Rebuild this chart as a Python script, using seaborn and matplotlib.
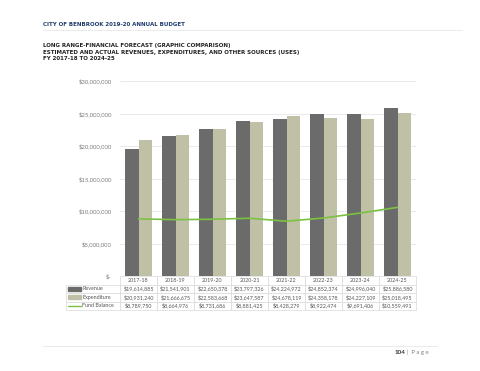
import matplotlib
matplotlib.use('Agg')
import matplotlib.pyplot as plt
from matplotlib.patches import Rectangle
from matplotlib.lines import Line2D
import seaborn as sns
import pandas as pd
import numpy as np

YEARS = ['2017-18', '2018-19', '2019-20', '2020-21', '2021-22', '2022-23', '2023-24', '2024-25']
REVENUE = [19614885, 21541901, 22650378, 23797326, 24224972, 24852374, 24996040, 25886580]
EXPENDITURE = [20931240, 21666675, 22583668, 23647587, 24678119, 24358178, 24227109, 25018495]
FUND_BALANCE = [8789750, 8664976, 8731686, 8881425, 8428279, 8922474, 9691406, 10559491]
SERIES = ['Revenue', 'Expenditure', 'Fund Balance']

REV_COLOR = '#6b6b6b'
EXP_COLOR = '#c0c0a6'
FB_COLOR = '#7cc242'
TEXT_GRAY = '#7f7f7f'


def money(v):
    return '$' + format(int(v), ',')


def build_frame():
    df = pd.DataFrame({'Year': YEARS * 2,
                       'Amount': REVENUE + EXPENDITURE,
                       'Series': ['Revenue'] * len(YEARS) + ['Expenditure'] * len(YEARS)})
    return df


def main():
    sns.set_style('white')
    plt.rcParams['font.family'] = ['Lato', 'DejaVu Sans']

    fig = plt.figure(figsize=(4.8, 3.71), dpi=100)
    ax = fig.add_axes([120 / 480, 1 - 276 / 371, 296 / 480, 195 / 371])

    df = build_frame()
    sns.barplot(data=df, x='Year', y='Amount', hue='Series', ax=ax,
                palette=[REV_COLOR, EXP_COLOR], width=0.74, gap=0,
                saturation=1, legend=False, edgecolor='none')
    sns.lineplot(x=np.arange(len(YEARS)), y=FUND_BALANCE, ax=ax,
                 color=FB_COLOR, linewidth=1.2)

    ax.set_xlim(-0.5, len(YEARS) - 0.5)
    ax.set_ylim(0, 30000000)
    ticks = np.arange(0, 30000001, 5000000)
    ax.set_yticks(ticks)
    ax.set_yticklabels(['$-'] + [money(t) for t in ticks[1:]],
                       fontsize=4.3, color=TEXT_GRAY)
    ax.tick_params(axis='y', length=0, pad=6)
    ax.set_xticks([])
    ax.set_xlabel('')
    ax.set_ylabel('')
    ax.grid(axis='y', color='#e6e6e6', linewidth=0.6)
    ax.set_axisbelow(True)
    for s in ax.spines.values():
        s.set_visible(False)

    # data table under the chart
    label_w = 54 / 296
    rows = [[''] + YEARS]
    for name, vals in zip(SERIES, [REVENUE, EXPENDITURE, FUND_BALANCE]):
        rows.append([name] + [money(v) for v in vals])
    tab_h = 34 / 195
    tbl = ax.table(cellText=rows, cellLoc='center',
                   colWidths=[label_w] + [1 / len(YEARS)] * len(YEARS),
                   bbox=[-label_w, -tab_h, 1 + label_w, tab_h])
    tbl.auto_set_font_size(False)
    for (r, c), cell in tbl.get_celld().items():
        cell.set_edgecolor('#d9d9d9')
        cell.set_linewidth(0.5)
        cell.get_text().set_fontsize(3.9)
        cell.get_text().set_color('#555555')
        if c == 0:
            cell.get_text().set_ha('left')
            cell._loc = 'left'
            cell.PAD = 0.3
        if r == 0 and c == 0:
            cell.visible_edges = ''

    # legend keys inside the table label column
    row_h = tab_h / 4
    x0 = -label_w + 2 / 296
    sw = 13 / 296
    for i, name in enumerate(SERIES):
        yc = -row_h * (i + 1.5)
        if name == 'Fund Balance':
            ax.add_line(Line2D([x0, x0 + sw], [yc, yc], color=FB_COLOR,
                               linewidth=1.0, transform=ax.transAxes, clip_on=False))
        else:
            col = REV_COLOR if name == 'Revenue' else EXP_COLOR
            ax.add_patch(Rectangle((x0, yc - 0.011), sw, 0.022, color=col,
                                   transform=ax.transAxes, clip_on=False))

    # page header
    fig.text(43 / 480, 1 - 25 / 371, 'CITY OF BENBROOK 2019-20 ANNUAL BUDGET',
             fontsize=4.0, fontweight='bold', color='#1f3c6e', va='center',
             family='DejaVu Sans')
    fig.add_artist(Line2D([43 / 480, 462 / 480], [1 - 30 / 371, 1 - 30 / 371],
                          color='#e3e3e3', linewidth=0.5))
    subtitle = ['LONG RANGE-FINANCIAL FORECAST (GRAPHIC COMPARISON)',
                'ESTIMATED AND ACTUAL REVENUES, EXPENDITURES, AND OTHER SOURCES (USES)',
                'FY 2017-18 TO 2024-25']
    for i, line in enumerate(subtitle):
        fig.text(43 / 480, 1 - (46 + i * 6.5) / 371, line, fontsize=4.0,
                 fontweight='bold', color='#222222', va='center',
                 family='DejaVu Sans')

    # footer
    fig.add_artist(Line2D([43 / 480, 437 / 480], [1 - 346 / 371, 1 - 346 / 371],
                          color='#e3e3e3', linewidth=0.5))
    fig.text(395 / 480, 1 - 352 / 371, '104', fontsize=4.6, fontweight='bold',
             color='#333333', va='center')
    fig.text(407 / 480, 1 - 352 / 371, '|  P a g e', fontsize=4.3,
             color=TEXT_GRAY, va='center')

    fig.savefig('out.png', dpi=100)


if __name__ == '__main__':
    main()
